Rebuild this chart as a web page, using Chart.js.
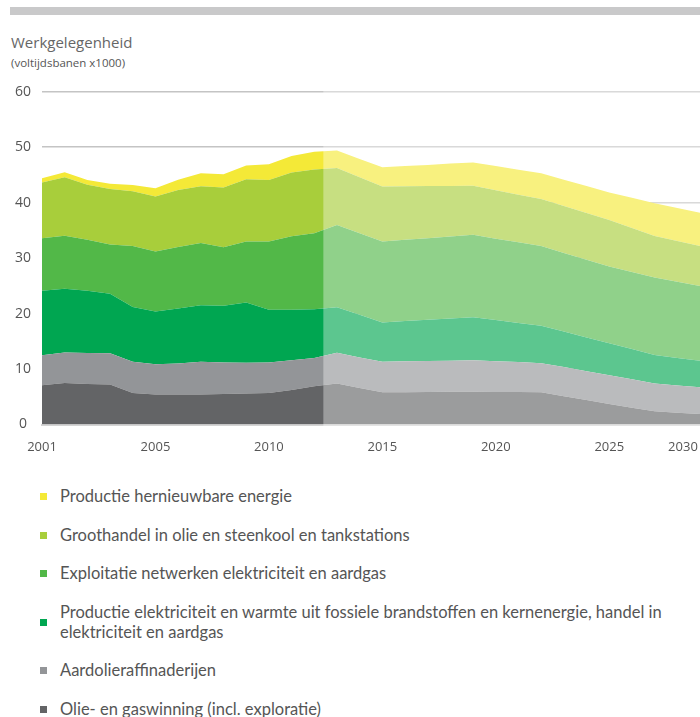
<!DOCTYPE html>
<html lang="nl">
<head>
<meta charset="utf-8">
<title>Werkgelegenheid</title>
<script src="https://cdn.jsdelivr.net/npm/chart.js@4/dist/chart.umd.min.js"></script>
<style>
  html, body { margin: 0; padding: 0; background: #fff; }
  body { width: 700px; height: 717px; position: relative; overflow: hidden; font-family: "Open Sans", sans-serif; }
  .bar { position: absolute; left: 10px; top: 7px; width: 690px; height: 8px; background: #c9c9ca; }
  .title { position: absolute; left: 11px; top: 32px; font-size: 15px; color: #666; white-space: nowrap; }
  .subtitle { position: absolute; left: 11px; top: 55px; font-size: 11.5px; color: #555; white-space: nowrap; }
  #wrap { position: absolute; left: 0; top: 70px; width: 700px; height: 390px; }
  #legend { position: absolute; left: 0; top: 486px; margin: 0; padding: 0; list-style: none; font-family: Lato, sans-serif; }
  #legend li { position: relative; padding-left: 60px; width: 630px; font-size: 16.5px; line-height: 20px; color: #555; margin-bottom: 18.5px; }
  #legend .sw { position: absolute; left: 40px; top: 50%; width: 7px; height: 7px; margin-top: -3px; }
</style>
</head>
<body>
<div class="bar"></div>
<div class="title">Werkgelegenheid</div>
<div class="subtitle">(voltijdsbanen x1000)</div>
<div id="wrap"><canvas id="chart" width="700" height="390"></canvas></div>
<ul id="legend"></ul>

<script>
// Yearly categories of the employment series
const years = [2001, 2002, 2003, 2004, 2005, 2006, 2007, 2008, 2009, 2010,
               2011, 2012, 2013, 2014, 2015, 2016, 2017, 2018, 2019, 2020,
               2021, 2022, 2023, 2024, 2025, 2026, 2027, 2028, 2029, 2030];

// Full-time jobs (x1000) per sector, bottom of the stack first
const olieGaswinning = [7.1, 7.5, 7.3, 7.2, 5.7, 5.4, 5.4, 5.4, 5.5, 5.6,
                        5.7, 6.2, 6.9, 7.4, 6.6, 5.8, 5.8, 5.85, 5.9, 5.9,
                        5.85, 5.85, 5.8, 5.1, 4.4, 3.7, 3.0, 2.4, 2.1, 1.9];
const raffinaderijen = [5.4, 5.5, 5.6, 5.65, 5.6, 5.45, 5.6, 5.9, 5.7, 5.55,
                        5.5, 5.4, 5.1, 5.55, 5.5, 5.5, 5.6, 5.6, 5.6, 5.7,
                        5.55, 5.4, 5.25, 5.25, 5.2, 5.2, 5.15, 5.0, 4.95, 4.8];
const productieFossiel = [11.6, 11.5, 11.2, 10.75, 9.9, 9.55, 9.9, 10.2, 10.2, 10.85,
                          9.5, 9.1, 8.8, 8.2, 7.7, 7.1, 7.25, 7.45, 7.6, 7.75,
                          7.45, 7.05, 6.75, 6.4, 6.1, 5.75, 5.45, 5.15, 4.95, 4.8];
const netwerken = [9.5, 9.55, 9.2, 8.85, 11.0, 10.8, 11.1, 11.25, 10.55, 11.0,
                   12.3, 13.25, 13.7, 14.85, 14.7, 14.6, 14.65, 14.7, 14.8, 14.85,
                   14.65, 14.55, 14.4, 14.2, 14.0, 13.85, 13.9, 13.95, 13.75, 13.5];
const groothandel = [10.05, 10.55, 9.95, 10.0, 9.85, 9.9, 10.3, 10.2, 10.8, 11.25,
                     11.1, 11.5, 11.5, 10.25, 10.1, 9.9, 9.65, 9.4, 9.1, 8.85,
                     8.75, 8.6, 8.45, 8.45, 8.45, 8.4, 7.95, 7.5, 7.35, 7.2];
const hernieuwbaar = [0.75, 0.9, 0.85, 0.95, 1.15, 1.5, 1.85, 2.35, 2.4, 2.45,
                      2.85, 2.95, 3.2, 3.15, 3.3, 3.5, 3.65, 3.8, 4.05, 4.2,
                      4.35, 4.5, 4.65, 4.75, 4.85, 4.95, 5.45, 5.9, 5.95, 6.0];

// Axis labels
const yTicks = [0, 10, 20, 30, 40, 50, 60];
const xTickLabels = ['2001', '2005', '2010', '2015', '2020', '2025', '2030'];
const xTickSlots = [0, 5, 10, 15, 20, 25, 28.25];

// Where the projected years begin (position on the year axis)
const projectionFrom = 12.4;

const sectors = [
  { label: 'Olie- en gaswinning (incl. exploratie)', data: olieGaswinning, color: '#636466' },
  { label: 'Aardolieraffinaderijen', data: raffinaderijen, color: '#939598' },
  { label: 'Productie elektriciteit en warmte uit fossiele brandstoffen en kernenergie, handel in elektriciteit en aardgas', data: productieFossiel, color: '#00a651' },
  { label: 'Exploitatie netwerken elektriciteit en aardgas', data: netwerken, color: '#52b848' },
  { label: 'Groothandel in olie en steenkool en tankstations', data: groothandel, color: '#a8ce3b' },
  { label: 'Productie hernieuwbare energie', data: hernieuwbaar, color: '#f4e937' }
];

// Lightens everything right of the start of the projection
const projectionShade = {
  id: 'projectionShade',
  afterDatasetsDraw(chart) {
    const { ctx, chartArea, scales } = chart;
    const left = scales.x.getPixelForValue(projectionFrom);
    ctx.save();
    ctx.fillStyle = 'rgba(255,255,255,0.36)';
    ctx.fillRect(left, chartArea.top - 2, chartArea.right - left, chartArea.bottom - chartArea.top + 4);
    ctx.restore();
  }
};

const chart = new Chart(document.getElementById('chart'), {
  type: 'line',
  data: {
    labels: years,
    datasets: sectors.map((s, i) => ({
      label: s.label,
      data: s.data,
      backgroundColor: s.color,
      borderColor: s.color,
      borderWidth: 0,
      pointRadius: 0,
      tension: 0,
      fill: i === 0 ? 'origin' : '-1'
    }))
  },
  options: {
    responsive: false,
    animation: false,
    layout: { padding: { top: 21.8, right: 0, bottom: 0, left: 0 } },
    plugins: { legend: { display: false }, tooltip: { enabled: false } },
    scales: {
      x: {
        type: 'category',
        offset: false,
        grid: { display: false, drawTicks: false },
        border: { display: true, color: '#d4d4d4', width: 2 },
        afterBuildTicks(scale) {
          scale.ticks = xTickSlots.map(v => ({ value: v }));
        },
        afterFit(scale) {
          scale.height = 35.5;
          scale.paddingLeft = 0;
          scale.paddingRight = 0;
        },
        ticks: {
          autoSkip: false,
          maxRotation: 0,
          padding: 14.5,
          color: '#555',
          font: { family: 'Open Sans', size: 13 },
          callback: (value, i) => xTickLabels[i]
        }
      },
      y: {
        stacked: true,
        min: 0,
        max: 60,
        afterBuildTicks(scale) {
          scale.ticks = yTicks.map(v => ({ value: v }));
        },
        afterFit(scale) { scale.width = 42; },
        grid: { color: '#c4c4c4', lineWidth: 1.5, drawTicks: false },
        border: { display: false },
        ticks: {
          padding: 11,
          crossAlign: 'center',
          color: '#555',
          font: { family: 'Open Sans', size: 14 }
        }
      }
    }
  },
  plugins: [projectionShade]
});

// Legend list, top of the stack first
const legend = document.getElementById('legend');
chart.data.datasets.slice().reverse().forEach(ds => {
  const li = document.createElement('li');
  const sw = document.createElement('span');
  sw.className = 'sw';
  sw.style.background = ds.backgroundColor;
  li.appendChild(sw);
  li.appendChild(document.createTextNode(ds.label));
  legend.appendChild(li);
});
</script>
</body>
</html>
